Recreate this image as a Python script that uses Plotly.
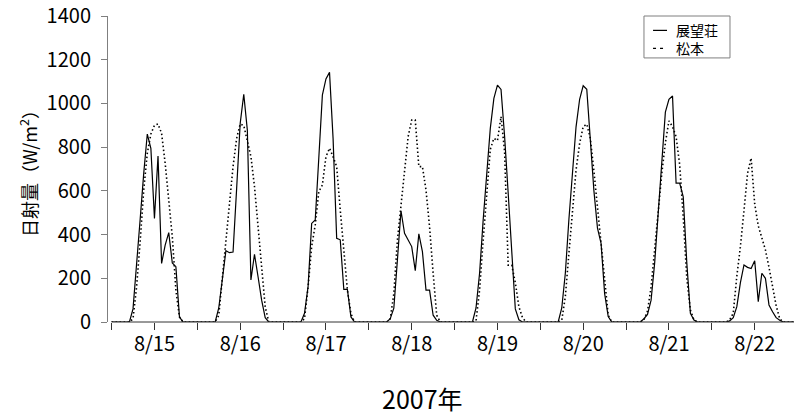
import plotly.graph_objects as go

# ---- data (hourly global solar radiation, W/m2) ----
days = ["8/15", "8/16", "8/17", "8/18", "8/19", "8/20", "8/21", "8/22"]
hours = list(range(24))

# 展望荘 (solid)
tenbou_0815 = [0, 0, 0, 0, 0, 0, 60, 250, 470, 680, 860, 795, 474, 759, 268, 352, 409, 270, 253, 23, 0, 0, 0, 0]
tenbou_0816 = [0, 0, 0, 0, 0, 0, 64, 200, 326, 317, 320, 610, 909, 1042, 878, 192, 310, 207, 100, 20, 0, 0, 0, 0]
tenbou_0817 = [0, 0, 0, 0, 0, 0, 40, 162, 451, 467, 750, 1038, 1112, 1142, 839, 383, 376, 149, 149, 23, 0, 0, 0, 0]
tenbou_0818 = [0, 0, 0, 0, 0, 0, 15, 63, 284, 509, 406, 375, 345, 235, 403, 322, 146, 146, 31, 8, 0, 0, 0, 0]
tenbou_0819 = [0, 0, 0, 0, 0, 0, 64, 223, 467, 680, 886, 1023, 1084, 1064, 850, 590, 330, 60, 10, 0, 0, 0, 0, 0]
tenbou_0820 = [0, 0, 0, 0, 0, 0, 64, 223, 470, 695, 893, 1019, 1081, 1065, 848, 600, 429, 360, 130, 25, 0, 0, 0, 0]
tenbou_0821 = [0, 0, 0, 0, 0, 15, 35, 100, 270, 500, 730, 960, 1019, 1034, 635, 635, 573, 270, 40, 9, 0, 0, 0, 0]
tenbou_0822 = [0, 0, 0, 0, 0, 5, 20, 70, 180, 261, 250, 245, 280, 93, 223, 200, 78, 47, 20, 8, 0, 0, 0, 0]

# 松本 (dotted)
matsumoto_0815 = [0, 0, 0, 0, 0, 0, 15, 160, 368, 604, 772, 860, 900, 906, 863, 726, 558, 390, 146, 23, 0, 0, 0, 0]
matsumoto_0816 = [0, 0, 0, 0, 0, 0, 30, 200, 375, 543, 711, 840, 906, 899, 825, 757, 620, 436, 235, 69, 0, 0, 0, 0]
matsumoto_0817 = [0, 0, 0, 0, 0, 0, 15, 160, 345, 444, 596, 627, 756, 795, 756, 711, 513, 314, 146, 38, 0, 0, 0, 0]
matsumoto_0818 = [0, 0, 0, 0, 0, 0, 15, 130, 375, 543, 711, 848, 924, 924, 711, 711, 604, 436, 223, 31, 0, 0, 0, 0]
matsumoto_0819 = [0, 0, 0, 0, 0, 0, 5, 146, 375, 589, 790, 840, 830, 940, 780, 260, 260, 180, 70, 20, 0, 0, 0, 0]
matsumoto_0820 = [0, 0, 0, 0, 0, 0, 8, 116, 314, 512, 695, 817, 894, 905, 840, 690, 530, 380, 190, 31, 0, 0, 0, 0]
matsumoto_0821 = [0, 0, 0, 0, 0, 10, 50, 160, 320, 505, 680, 820, 920, 894, 848, 720, 480, 200, 55, 10, 0, 0, 0, 0]
matsumoto_0822 = [0, 0, 0, 0, 0, 10, 40, 210, 345, 510, 680, 750, 540, 440, 380, 330, 250, 160, 75, 15, 0, 0, 0, 0]

tenbou = [tenbou_0815, tenbou_0816, tenbou_0817, tenbou_0818,
          tenbou_0819, tenbou_0820, tenbou_0821, tenbou_0822]
matsumoto = [matsumoto_0815, matsumoto_0816, matsumoto_0817, matsumoto_0818,
             matsumoto_0819, matsumoto_0820, matsumoto_0821, matsumoto_0822]

series_names = ["展望荘", "松本"]
y_ticks = [0, 200, 400, 600, 800, 1000, 1200, 1400]

# ---- build x (hours since 8/15 00:00) ----
x = [d * 24 + h for d in range(len(days)) for h in hours]
y_tenbou = [v for day in tenbou for v in day]
y_matsu = [v for day in matsumoto for v in day]

noon_ticks = [d * 24 + 12 for d in range(len(days))]
midnight_ticks = [d * 24 for d in range(len(days))]

x_end = x[-1]
num_font = "Noto Sans CJK JP, sans-serif"
jp_font = "Noto Sans CJK JP, sans-serif"
axis_grey = "#7f7f7f"
solid_style = dict(color="black", width=1.2)
dot_style = dict(color="black", width=1.6, dash="1.5px,2.5px")

fig = go.Figure()
fig.add_trace(go.Scatter(x=x, y=y_tenbou, mode="lines", name=series_names[0],
                         line=solid_style, showlegend=False))
fig.add_trace(go.Scatter(x=x, y=y_matsu, mode="lines", name=series_names[1],
                         line=dot_style, showlegend=False))

# ---- compact legend box (drawn in paper coordinates) ----
lg_x0, lg_x1, lg_y0, lg_y1 = 0.7813, 0.9067, 0.863, 1.0
row_y = [0.953, 0.894]
sample_x0, sample_x1, text_x = 0.7945, 0.8149, 0.8265
legend_dashes = ["solid", "3px,4px"]

shapes = [
    dict(type="line", xref="x", yref="paper", x0=x[0], x1=x_end, y0=0, y1=0,
         line=dict(color="#333", width=1)),
    dict(type="rect", xref="paper", yref="paper", x0=lg_x0, x1=lg_x1, y0=lg_y0, y1=lg_y1,
         line=dict(color=axis_grey, width=1), fillcolor="white", layer="above"),
]
for ry, dsh in zip(row_y, legend_dashes):
    shapes.append(dict(type="line", xref="paper", yref="paper", x0=sample_x0, x1=sample_x1,
                       y0=ry, y1=ry, line=dict(color="black", width=1.2, dash=dsh), layer="above"))

annotations = [
    dict(text="2007年", xref="paper", yref="paper",
         x=0.459, y=-0.248, xanchor="center", yanchor="middle",
         showarrow=False, font=dict(family=num_font, size=25, color="black")),
    dict(text="<br>".join(series_names), xref="paper", yref="paper",
         x=text_x, y=(row_y[0] + row_y[1]) / 2, xanchor="left", yanchor="middle",
         align="left", showarrow=False, borderpad=0,
         font=dict(family=jp_font, size=14, color="black")),
]

fig.update_layout(
    width=794, height=416,
    margin=dict(l=108, r=0, t=16, b=94),
    paper_bgcolor="white", plot_bgcolor="white",
    showlegend=False,
    xaxis=dict(range=[-1, x_end], tickmode="array", tickvals=noon_ticks, ticktext=days,
               showline=False, showgrid=False, zeroline=False,
               ticks="outside", ticklen=7, tickcolor="#333", tickwidth=1,
               ticklabelstandoff=-3,
               minor=dict(tickmode="array", tickvals=midnight_ticks, ticks="outside",
                          ticklen=7, tickcolor="#333", tickwidth=1, showgrid=False),
               tickfont=dict(family=num_font, size=20, color="black")),
    yaxis=dict(range=[0, 1400], tickmode="array", tickvals=y_ticks,
               showline=True, linecolor=axis_grey, linewidth=1,
               showgrid=False, zeroline=False,
               ticks="outside", ticklen=6, tickcolor=axis_grey, tickwidth=1,
               ticklabelstandoff=6,
               tickfont=dict(family=num_font, size=20, color="black"),
               title=dict(text="日射量（W/m<sup>2</sup>）", standoff=4,
                          font=dict(family=jp_font, size=18, color="black"))),
    shapes=shapes,
    annotations=annotations,
)

fig.write_html("out.html")
